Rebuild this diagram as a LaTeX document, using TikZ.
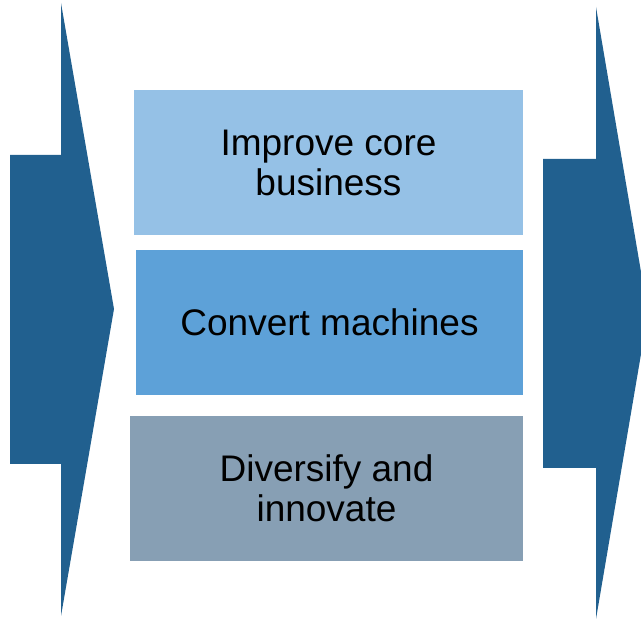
\documentclass[tikz,border=0pt]{standalone}
\usepackage{fontspec}
\setmainfont{Liberation Sans}
\definecolor{arrowblue}{HTML}{21608F}
\definecolor{boxlight}{HTML}{95C1E6}
\definecolor{boxmid}{HTML}{5DA1D8}
\definecolor{boxgray}{HTML}{879FB4}
\tikzset{
  bigarrow/.style={fill=arrowblue, draw=none},
  stagebox/.style={draw=none, inner sep=0pt, align=center,
    font=\fontsize{37}{40}\selectfont, text=black},
}
\begin{document}
\begin{tikzpicture}[x=1pt,y=1pt]
  \useasboundingbox (0,0) rectangle (641,620);
  \clip (0,0) rectangle (641,620);
  % left chevron arrow
  \fill[bigarrow] (10,465) -- (10,156) -- (61,156) -- (61,4) -- (114,311)
    -- (61,617) -- (61,465) -- cycle;
  % right chevron arrow (tip runs past the edge)
  \fill[bigarrow] (543,461) -- (543,152) -- (596,152) -- (596,1) -- (648,307)
    -- (596,613) -- (596,461) -- cycle;
  % three stacked stages
  \node[stagebox, fill=boxlight, minimum width=389pt, minimum height=145pt]
    (core) at (328.5,457.5) {Improve core\\business};
  \node[stagebox, fill=boxmid, minimum width=387pt, minimum height=145pt]
    (convert) at (329.5,297.5) {Convert machines};
  \node[stagebox, fill=boxgray, minimum width=393pt, minimum height=145pt]
    (diversify) at (326.5,131.5) {Diversify and\\innovate};
\end{tikzpicture}
\end{document}
